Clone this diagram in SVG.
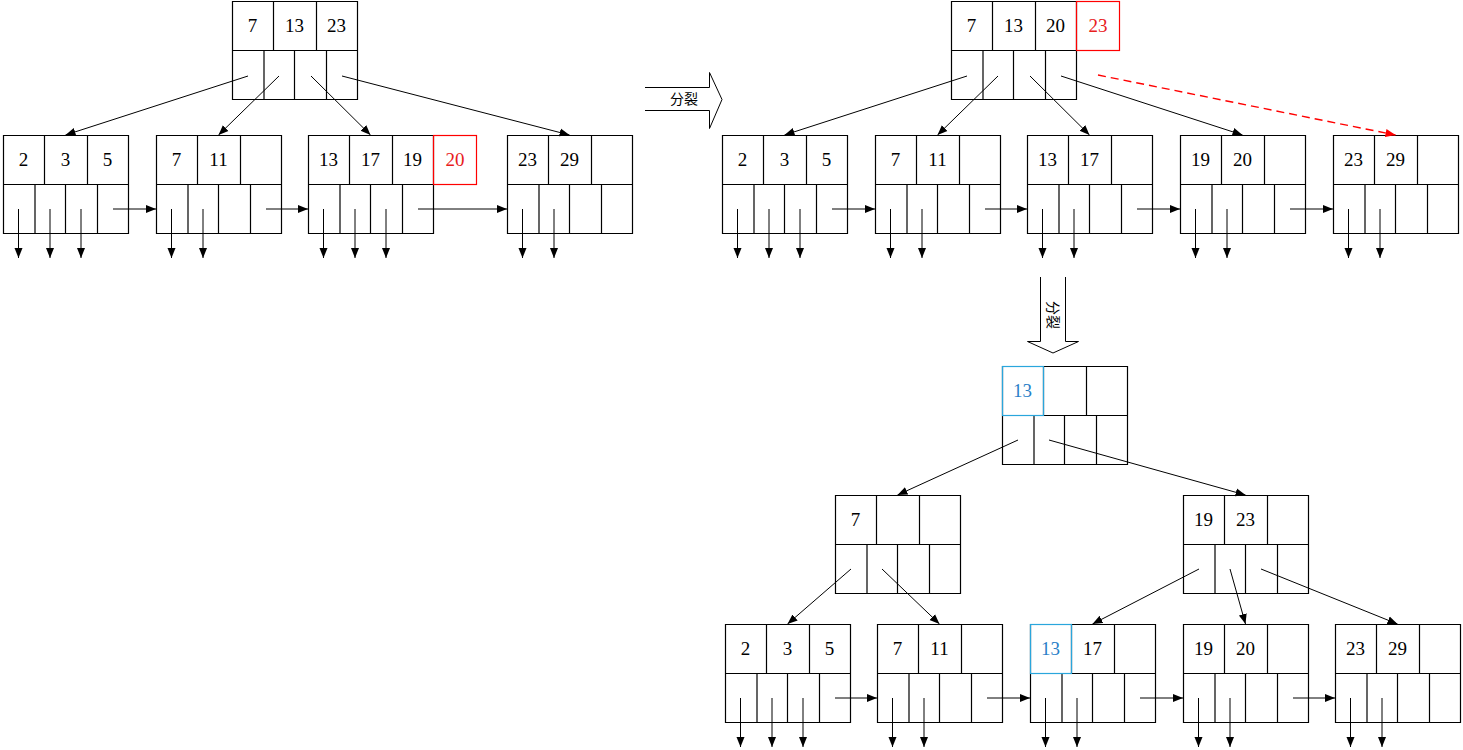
<svg xmlns="http://www.w3.org/2000/svg" xmlns:xlink="http://www.w3.org/1999/xlink" width="1463" height="750" viewBox="0 0 1463 750">
<style>
.bx{fill:none;stroke:#000;stroke-width:1.2}
.t{font-family:"Liberation Serif","Times New Roman",serif;font-size:19px;fill:#000;text-anchor:middle}
.tr{fill:#e8201c}
.tb{fill:#2a7fc8}
.red{fill:none;stroke:#ff0000;stroke-width:1.2}
.blue{fill:none;stroke:#2aa6dc;stroke-width:1.2}
.c{fill:none;stroke:#000;stroke-width:1}
.dash{fill:none;stroke:#ff0000;stroke-width:1.4;stroke-dasharray:8 5}
.big{fill:#fff;stroke:#000;stroke-width:1}
.cn{font-family:"Noto Sans CJK SC","Noto Sans",sans-serif;font-size:14px;fill:#000;text-anchor:middle}
</style>
<defs>
<marker id="ah" markerUnits="userSpaceOnUse" markerWidth="10" markerHeight="10" viewBox="0 0 10 10" refX="10" refY="5" orient="auto"><path d="M0,1 L10,5 L0,9 z" fill="#000"/></marker>
<marker id="ahr" markerUnits="userSpaceOnUse" markerWidth="10" markerHeight="10" viewBox="0 0 10 10" refX="10" refY="5" orient="auto"><path d="M0,1 L10,5 L0,9 z" fill="#ff0000"/></marker>
<path id="nb" class="bx" d="M0.5,0.5h125v98h-125z M0.5,49.5h125 M41.5,0.5v49 M84.5,0.5v49 M32,49.5v49 M62.5,49.5v49 M94.5,49.5v49"/>
</defs>

<!-- left tree -->
<g id="L_root" transform="translate(232,1)"><use href="#nb"/><text class="t" x="20.5" y="31">7</text><text class="t" x="62.5" y="31">13</text><text class="t" x="104.5" y="31">23</text></g>
<g id="L_leaf1" transform="translate(3,135)"><use href="#nb"/><text class="t" x="20.5" y="31">2</text><text class="t" x="62.5" y="31">3</text><text class="t" x="104.5" y="31">5</text></g>
<g id="L_leaf2" transform="translate(156,135)"><use href="#nb"/><text class="t" x="20.5" y="31">7</text><text class="t" x="62.5" y="31">11</text></g>
<g id="L_leaf3" transform="translate(308,135)"><use href="#nb"/><rect class="red" x="125.5" y="0.5" width="43" height="49"/><text class="t" x="20.5" y="31">13</text><text class="t" x="62.5" y="31">17</text><text class="t" x="104.5" y="31">19</text><text class="t tr" x="147" y="31">20</text></g>
<g id="L_leaf4" transform="translate(507,135)"><use href="#nb"/><text class="t" x="20.5" y="31">23</text><text class="t" x="62.5" y="31">29</text></g>

<!-- right top tree -->
<g id="R_root" transform="translate(951,1)"><use href="#nb"/><rect class="red" x="125.5" y="0.5" width="43" height="49"/><text class="t" x="20.5" y="31">7</text><text class="t" x="62.5" y="31">13</text><text class="t" x="104.5" y="31">20</text><text class="t tr" x="147" y="31">23</text></g>
<g id="R_leaf1" transform="translate(722,135)"><use href="#nb"/><text class="t" x="20.5" y="31">2</text><text class="t" x="62.5" y="31">3</text><text class="t" x="104.5" y="31">5</text></g>
<g id="R_leaf2" transform="translate(875,135)"><use href="#nb"/><text class="t" x="20.5" y="31">7</text><text class="t" x="62.5" y="31">11</text></g>
<g id="R_leaf3" transform="translate(1027,135)"><use href="#nb"/><text class="t" x="20.5" y="31">13</text><text class="t" x="62.5" y="31">17</text></g>
<g id="R_leaf4" transform="translate(1180,135)"><use href="#nb"/><text class="t" x="20.5" y="31">19</text><text class="t" x="62.5" y="31">20</text></g>
<g id="R_leaf5" transform="translate(1333,135)"><use href="#nb"/><text class="t" x="20.5" y="31">23</text><text class="t" x="62.5" y="31">29</text></g>

<!-- bottom tree -->
<g id="B_root" transform="translate(1002,366)"><use href="#nb"/><rect class="blue" x="0.5" y="0.5" width="41" height="49"/><text class="t tb" x="20.5" y="31">13</text></g>
<g id="B_midL" transform="translate(835,495)"><use href="#nb"/><text class="t" x="20.5" y="31">7</text></g>
<g id="B_midR" transform="translate(1183,495)"><use href="#nb"/><text class="t" x="20.5" y="31">19</text><text class="t" x="62.5" y="31">23</text></g>
<g id="B_leaf1" transform="translate(725,624)"><use href="#nb"/><text class="t" x="20.5" y="31">2</text><text class="t" x="62.5" y="31">3</text><text class="t" x="104.5" y="31">5</text></g>
<g id="B_leaf2" transform="translate(877,624)"><use href="#nb"/><text class="t" x="20.5" y="31">7</text><text class="t" x="62.5" y="31">11</text></g>
<g id="B_leaf3" transform="translate(1030,624)"><use href="#nb"/><rect class="blue" x="0.5" y="0.5" width="41" height="49"/><text class="t tb" x="20.5" y="31">13</text><text class="t" x="62.5" y="31">17</text></g>
<g id="B_leaf4" transform="translate(1183,624)"><use href="#nb"/><text class="t" x="20.5" y="31">19</text><text class="t" x="62.5" y="31">20</text></g>
<g id="B_leaf5" transform="translate(1335,624)"><use href="#nb"/><text class="t" x="20.5" y="31">23</text><text class="t" x="62.5" y="31">29</text></g>

<!-- split arrows -->
<g id="split1"><path class="big" d="M645,87.5 H709.5 V72.5 L722,99.5 L709.5,128.5 V110.5 H645"/><text class="cn" x="684" y="104">分裂</text></g>
<g id="split2"><path class="big" d="M1040.5,277 V341.5 H1027.5 L1053,353 L1078.5,341.5 H1065.5 V277"/><text class="cn" transform="translate(1053,315) rotate(90)" x="0" y="5">分裂</text></g>

<g id="connectors">
<!-- left tree parent-child -->
<line class="c" x1="248" y1="76" x2="65.5" y2="135" marker-end="url(#ah)"/>
<line class="c" x1="279" y1="76" x2="218.5" y2="135" marker-end="url(#ah)"/>
<line class="c" x1="311" y1="76" x2="370.5" y2="135" marker-end="url(#ah)"/>
<line class="c" x1="342" y1="76" x2="569.5" y2="135" marker-end="url(#ah)"/>
<!-- left leaf links -->
<line class="c" x1="113" y1="209" x2="156" y2="209" marker-end="url(#ah)"/>
<line class="c" x1="266" y1="209" x2="308" y2="209" marker-end="url(#ah)"/>
<line class="c" x1="418" y1="209" x2="507" y2="209" marker-end="url(#ah)"/>
<!-- left down arrows -->
<line class="c" x1="18.5" y1="209" x2="18.5" y2="258" marker-end="url(#ah)"/>
<line class="c" x1="50" y1="209" x2="50" y2="258" marker-end="url(#ah)"/>
<line class="c" x1="81" y1="209" x2="81" y2="258" marker-end="url(#ah)"/>
<line class="c" x1="171.5" y1="209" x2="171.5" y2="258" marker-end="url(#ah)"/>
<line class="c" x1="203" y1="209" x2="203" y2="258" marker-end="url(#ah)"/>
<line class="c" x1="323.5" y1="209" x2="323.5" y2="258" marker-end="url(#ah)"/>
<line class="c" x1="355" y1="209" x2="355" y2="258" marker-end="url(#ah)"/>
<line class="c" x1="386" y1="209" x2="386" y2="258" marker-end="url(#ah)"/>
<line class="c" x1="522.5" y1="209" x2="522.5" y2="258" marker-end="url(#ah)"/>
<line class="c" x1="554" y1="209" x2="554" y2="258" marker-end="url(#ah)"/>

<!-- right top tree parent-child -->
<line class="c" x1="967" y1="76" x2="784.5" y2="135" marker-end="url(#ah)"/>
<line class="c" x1="998" y1="76" x2="937.5" y2="135" marker-end="url(#ah)"/>
<line class="c" x1="1030" y1="76" x2="1089.5" y2="135" marker-end="url(#ah)"/>
<line class="c" x1="1061" y1="76" x2="1242.5" y2="135" marker-end="url(#ah)"/>
<line class="dash" x1="1098" y1="75" x2="1395.5" y2="135" marker-end="url(#ahr)"/>
<!-- right top leaf links -->
<line class="c" x1="832" y1="209" x2="875" y2="209" marker-end="url(#ah)"/>
<line class="c" x1="985" y1="209" x2="1027" y2="209" marker-end="url(#ah)"/>
<line class="c" x1="1137" y1="209" x2="1180" y2="209" marker-end="url(#ah)"/>
<line class="c" x1="1290" y1="209" x2="1333" y2="209" marker-end="url(#ah)"/>
<!-- right top down arrows -->
<line class="c" x1="737.5" y1="209" x2="737.5" y2="258" marker-end="url(#ah)"/>
<line class="c" x1="769" y1="209" x2="769" y2="258" marker-end="url(#ah)"/>
<line class="c" x1="800" y1="209" x2="800" y2="258" marker-end="url(#ah)"/>
<line class="c" x1="890.5" y1="209" x2="890.5" y2="258" marker-end="url(#ah)"/>
<line class="c" x1="922" y1="209" x2="922" y2="258" marker-end="url(#ah)"/>
<line class="c" x1="1042.5" y1="209" x2="1042.5" y2="258" marker-end="url(#ah)"/>
<line class="c" x1="1074" y1="209" x2="1074" y2="258" marker-end="url(#ah)"/>
<line class="c" x1="1195.5" y1="209" x2="1195.5" y2="258" marker-end="url(#ah)"/>
<line class="c" x1="1227" y1="209" x2="1227" y2="258" marker-end="url(#ah)"/>
<line class="c" x1="1348.5" y1="209" x2="1348.5" y2="258" marker-end="url(#ah)"/>
<line class="c" x1="1380" y1="209" x2="1380" y2="258" marker-end="url(#ah)"/>

<!-- bottom tree parent-child -->
<line class="c" x1="1018" y1="440" x2="897.5" y2="495" marker-end="url(#ah)"/>
<line class="c" x1="1049" y1="440" x2="1245.5" y2="495" marker-end="url(#ah)"/>
<line class="c" x1="851" y1="569" x2="787.5" y2="624" marker-end="url(#ah)"/>
<line class="c" x1="882" y1="569" x2="939.5" y2="624" marker-end="url(#ah)"/>
<line class="c" x1="1199" y1="569" x2="1092.5" y2="624" marker-end="url(#ah)"/>
<line class="c" x1="1230" y1="569" x2="1245.5" y2="624" marker-end="url(#ah)"/>
<line class="c" x1="1261" y1="569" x2="1397.5" y2="624" marker-end="url(#ah)"/>
<!-- bottom leaf links -->
<line class="c" x1="835" y1="698" x2="877" y2="698" marker-end="url(#ah)"/>
<line class="c" x1="987" y1="698" x2="1030" y2="698" marker-end="url(#ah)"/>
<line class="c" x1="1140" y1="698" x2="1183" y2="698" marker-end="url(#ah)"/>
<line class="c" x1="1293" y1="698" x2="1335" y2="698" marker-end="url(#ah)"/>
<!-- bottom down arrows -->
<line class="c" x1="740.5" y1="698" x2="740.5" y2="747" marker-end="url(#ah)"/>
<line class="c" x1="772" y1="698" x2="772" y2="747" marker-end="url(#ah)"/>
<line class="c" x1="803" y1="698" x2="803" y2="747" marker-end="url(#ah)"/>
<line class="c" x1="892.5" y1="698" x2="892.5" y2="747" marker-end="url(#ah)"/>
<line class="c" x1="924" y1="698" x2="924" y2="747" marker-end="url(#ah)"/>
<line class="c" x1="1045.5" y1="698" x2="1045.5" y2="747" marker-end="url(#ah)"/>
<line class="c" x1="1077" y1="698" x2="1077" y2="747" marker-end="url(#ah)"/>
<line class="c" x1="1198.5" y1="698" x2="1198.5" y2="747" marker-end="url(#ah)"/>
<line class="c" x1="1230" y1="698" x2="1230" y2="747" marker-end="url(#ah)"/>
<line class="c" x1="1350.5" y1="698" x2="1350.5" y2="747" marker-end="url(#ah)"/>
<line class="c" x1="1382" y1="698" x2="1382" y2="747" marker-end="url(#ah)"/>
</g>
</svg>
